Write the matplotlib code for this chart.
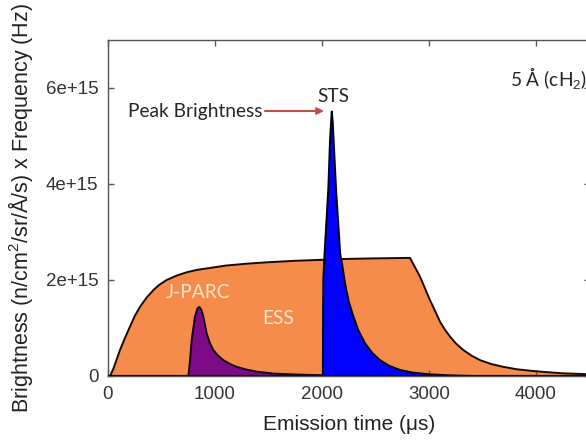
import matplotlib
matplotlib.use("Agg")
import matplotlib.pyplot as plt

plt.rcParams["font.family"] = ["Liberation Sans", "DejaVu Sans"]
plt.rcParams["mathtext.fontset"] = "custom"
plt.rcParams["mathtext.rm"] = "Liberation Sans"

# ---- data (emission time in microseconds, brightness x frequency in 1e15 units) ----
ess_t = [20, 50, 112, 160, 206, 250, 299, 360, 424, 480, 548, 640, 735, 830, 922, 1100, 1300,
         1500, 1750, 2000, 2250, 2500, 2822, 2916, 3009, 3060, 3103, 3150, 3196, 3250, 3321,
         3400, 3477, 3580, 3695, 3820, 3944, 4100, 4255, 4500]
ess_v = [0, 0.15, 0.54, 0.80, 1.03, 1.25, 1.44, 1.63, 1.79, 1.90, 2.00, 2.09, 2.16, 2.21, 2.24, 2.30, 2.34,
         2.37, 2.40, 2.42, 2.44, 2.45, 2.46, 2.07, 1.58, 1.34, 1.13, 0.96, 0.82, 0.68, 0.54,
         0.42, 0.33, 0.25, 0.19, 0.14, 0.11, 0.08, 0.055, 0.035]

jparc_t = [751, 766, 782, 813, 835, 853, 872, 891, 922, 950, 984, 1030, 1078, 1140,
           1203, 1300, 1390, 1550, 1750, 2000, 2300, 2700]
jparc_v = [0, 0.31, 0.75, 1.24, 1.40, 1.44, 1.38, 1.24, 0.89, 0.70, 0.54, 0.42, 0.33, 0.25,
           0.19, 0.13, 0.09, 0.05, 0.03, 0.015, 0.007, 0]

sts_t = [2008, 2010, 2012, 2025, 2059, 2075, 2091, 2100, 2131, 2170, 2190, 2215, 2250, 2293,
         2340, 2402, 2470, 2542, 2630, 2729, 2850, 3000, 3200, 3400]
sts_v = [0, 1.2, 2.0, 2.6, 3.9, 4.92, 5.51, 5.3, 3.9, 2.55, 2.3, 1.93, 1.55, 1.24,
         0.95, 0.68, 0.48, 0.33, 0.21, 0.125, 0.07, 0.035, 0.012, 0]

scale = 1e15
xticks = [0, 1000, 2000, 3000, 4000]
xtick_labels = ["0", "1000", "2000", "3000", "4000"]
yticks = [0, 2e15, 4e15, 6e15]
ytick_labels = ["0", "2e+15", "4e+15", "6e+15"]

ess_color = "#F68C4B"
jparc_color = "#7D0A86"
sts_color = "#0000FF"

fig = plt.figure(figsize=(5.86, 4.46), dpi=100)
ax = fig.add_axes([0.1843, 0.157, 0.8217, 0.7534])

def scaled(v):
    return [a * scale for a in v]

ax.fill_between(ess_t, 0, scaled(ess_v), facecolor=ess_color, edgecolor="none", zorder=1)
ax.plot(ess_t, scaled(ess_v), color="#1a0a05", lw=1.4, zorder=2)

ax.fill_between(jparc_t, 0, scaled(jparc_v), facecolor=jparc_color, edgecolor="none", zorder=3)
ax.plot(jparc_t, scaled(jparc_v), color="#150015", lw=1.4, zorder=4)

ax.fill_between(sts_t, 0, scaled(sts_v), facecolor=sts_color, edgecolor="none", zorder=5)
ax.plot(sts_t, scaled(sts_v), color="#000010", lw=1.4, zorder=6)

ax.axhline(0, color="#111111", lw=1.6, zorder=7)

ax.set_xlim(0, 4500)
ax.set_ylim(0, 7e15)

ax.set_xticks(xticks)
ax.set_xticklabels(xtick_labels)
ax.set_yticks(yticks)
ax.set_yticklabels(ytick_labels)

ax.tick_params(direction="in", length=4, width=1, color="#555555",
               top=True, right=True, pad=7, labelsize=13.5, labelcolor="#333333")
for sp in ax.spines.values():
    sp.set_color("#555555")
    sp.set_linewidth(1.0)

ax.set_xlabel("Emission time (μs)", fontsize=15, color="#222222", labelpad=9)
ax.set_ylabel(r"Brightness (n/cm$^2$/sr/Å/s) x Frequency (Hz)", fontsize=15.5,
              color="#222222", labelpad=8)

ann_font = ["Lato", "DejaVu Sans"]
ax.annotate("", xy=(2019, 5.52e15), xytext=(1467, 5.52e15),
            arrowprops=dict(arrowstyle="-|>", color="#C0504D", lw=1.5,
                            mutation_scale=10, shrinkA=0, shrinkB=0), zorder=7)
ax.text(1440, 5.52e15, "Peak Brightness", ha="right", va="center", fontsize=13.8,
        family=ann_font, color="#262626")
ax.text(2103, 5.83e15, "STS", ha="center", va="center", fontsize=13.8,
        family=ann_font, color="#262626")
ax.text(3757, 6.19e15, r"5 Å (cH$_2$)", ha="left", va="center", fontsize=13.8,
        family=ann_font, color="#262626", clip_on=False)
ax.text(841, 1.73e15, "J-PARC", ha="center", va="center", fontsize=13.8,
        family=ann_font, color="#FDE6CC", zorder=8)
ax.text(1589, 1.19e15, "ESS", ha="center", va="center", fontsize=13.8,
        family=ann_font, color="#FDE6CC", zorder=8)

fig.savefig("out.png", dpi=100)
